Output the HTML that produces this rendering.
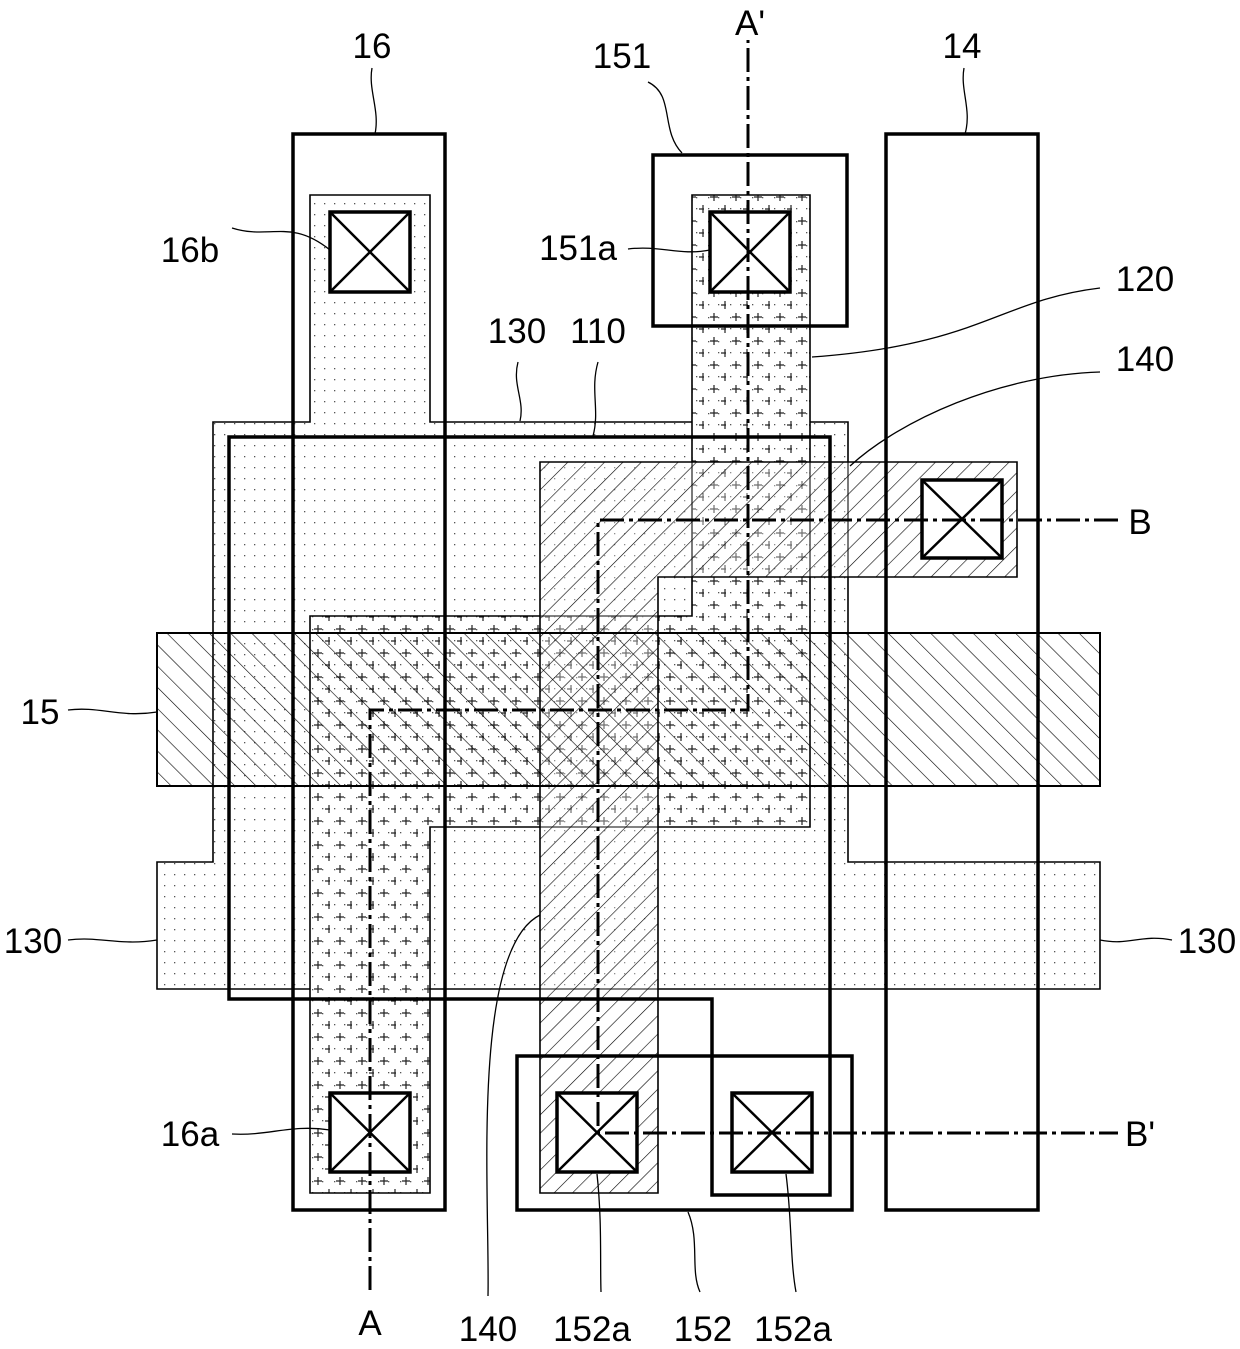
<!DOCTYPE html>
<html><head><meta charset="utf-8"><style>
html,body{margin:0;padding:0;background:#fff;}
svg{display:block;}
text{font-family:"Liberation Sans",sans-serif;font-size:35px;fill:#000;}
</style></head><body>
<svg width="1240" height="1349" viewBox="0 0 1240 1349" xmlns="http://www.w3.org/2000/svg">
<defs>
<pattern id="dots" width="10" height="11" patternUnits="userSpaceOnUse">
<rect x="4" y="5" width="1.3" height="1.3" fill="#555"/>
</pattern>
<pattern id="plus" width="22" height="24" patternUnits="userSpaceOnUse">
<rect x="0" y="0" width="22" height="24" fill="url(#dots)"/>
<path d="M6 5h8M10 1v8M17 17h8M21 13v8" stroke="#222" stroke-width="1.2"/>
</pattern>
<pattern id="fwd" width="13" height="13" patternUnits="userSpaceOnUse" patternTransform="rotate(45)">
<line x1="0" y1="0" x2="0" y2="13" stroke="#000" stroke-width="1.2"/>
</pattern>
<pattern id="back" width="15" height="15" patternUnits="userSpaceOnUse" patternTransform="rotate(-45)">
<line x1="0" y1="0" x2="0" y2="15" stroke="#000" stroke-width="1.2"/>
</pattern>
</defs>

<path d="M213 422H310V195H430V422H848V862H1100V989H157V862H213Z" fill="url(#dots)" stroke="#000" stroke-width="1.6"/>
<path d="M692 195H810V827H430V1193H310V616H692Z" fill="#fff" stroke="none"/>
<path d="M692 195H810V827H430V1193H310V616H692Z" fill="url(#plus)" stroke="#000" stroke-width="1.6"/>
<path d="M540 462H1017V577H658V1193H540Z" fill="#fff" fill-opacity="0.35" stroke="none"/>
<path d="M540 462H1017V577H658V1193H540Z" fill="url(#fwd)" stroke="#000" stroke-width="1.6"/>
<rect x="157" y="633" width="943" height="153" fill="url(#back)" stroke="#000" stroke-width="2"/>

<g fill="none" stroke="#000" stroke-width="3.5">
<path d="M229 437H830V1195H712V999H229Z"/>
<rect x="293" y="134" width="152" height="1076"/>
<rect x="886" y="134" width="152" height="1076"/>
<rect x="653" y="155" width="194" height="171"/>
<rect x="517" y="1056" width="335" height="154"/>
</g>

<g stroke="#000" stroke-width="3.5" fill="#fff">
<rect x="330" y="212" width="80" height="80"/>
<rect x="710" y="212" width="80" height="80"/>
<rect x="922" y="480" width="80" height="78"/>
<rect x="330" y="1093" width="80" height="79"/>
<rect x="557" y="1093" width="80" height="79"/>
<rect x="732" y="1093" width="80" height="79"/>
</g>
<g stroke="#000" stroke-width="2.5">
<path d="M330 212L410 292M410 212L330 292"/>
<path d="M710 212L790 292M790 212L710 292"/>
<path d="M922 480L1002 558M1002 480L922 558"/>
<path d="M330 1093L410 1172M410 1093L330 1172"/>
<path d="M557 1093L637 1172M637 1093L557 1172"/>
<path d="M732 1093L812 1172M812 1093L732 1172"/>
</g>

<g fill="none" stroke="#000" stroke-width="3" stroke-dasharray="24,5,4,5">
<path d="M370 1290V710H748V40"/>
<path d="M1118 520H598V1133H1118"/>
</g>

<g fill="none" stroke="#000" stroke-width="1.3">
<path d="M372 68C368 90 380 110 375 134"/>
<path d="M964 68C960 90 972 110 965 134"/>
<path d="M648 82C675 95 660 130 682 153"/>
<path d="M232 228C270 240 290 218 330 250"/>
<path d="M628 249C660 245 680 256 710 250"/>
<path d="M1100 288C1000 300 980 345 812 357"/>
<path d="M518 362C512 385 525 400 520 421"/>
<path d="M598 362C590 390 600 410 593 436"/>
<path d="M1100 372C1000 375 900 420 850 466"/>
<path d="M68 710C100 706 120 718 157 712"/>
<path d="M68 940C100 936 120 946 157 940"/>
<path d="M1100 940C1130 946 1140 934 1172 940"/>
<path d="M232 1134C270 1136 290 1124 330 1130"/>
<path d="M488 1296C490 1200 470 950 540 915"/>
<path d="M597 1174C602 1220 600 1260 601 1292"/>
<path d="M688 1212C700 1240 690 1270 700 1292"/>
<path d="M786 1174C792 1220 790 1260 796 1292"/>
</g>

<g text-anchor="middle">
<text x="372" y="58">16</text>
<text x="622" y="68">151</text>
<text x="750" y="35">A'</text>
<text x="962" y="58">14</text>
<text x="190" y="262">16b</text>
<text x="578" y="260">151a</text>
<text x="1145" y="291">120</text>
<text x="517" y="343">130</text>
<text x="598" y="343">110</text>
<text x="1145" y="371">140</text>
<text x="1140" y="534">B</text>
<text x="40" y="724">15</text>
<text x="33" y="953">130</text>
<text x="1207" y="953">130</text>
<text x="190" y="1146">16a</text>
<text x="1140" y="1146">B'</text>
<text x="370" y="1335">A</text>
<text x="488" y="1341">140</text>
<text x="592" y="1341">152a</text>
<text x="703" y="1341">152</text>
<text x="793" y="1341">152a</text>
</g>
</svg>
</body></html>
